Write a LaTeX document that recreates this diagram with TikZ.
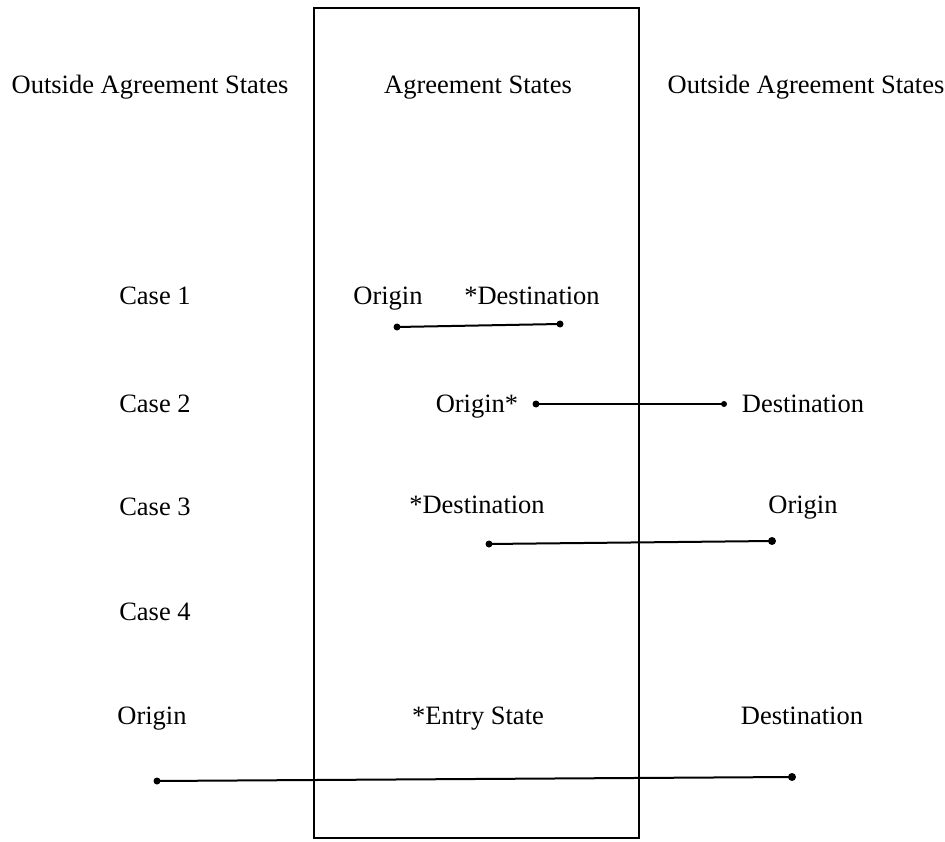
\documentclass[tikz,border=0pt]{standalone}
\usepackage{fontspec}
\setmainfont{Liberation Serif}
\tikzset{
  lbl/.style={anchor=base, inner sep=0pt, font=\fontsize{26.5}{30}\selectfont},
  pathline/.style={line width=2pt},
  enddot/.style={circle, fill, inner sep=0pt, minimum size=7pt}
}
\begin{document}
\begin{tikzpicture}[x=1pt, y=-1pt]
  \useasboundingbox (0,0) rectangle (945,842);
  % agreement states box
  \draw[line width=2.2pt] (314,8) rectangle (639,838);

  % headings
  \node[lbl] (outL) at (150,94) {Outside Agreement States};
  \node[lbl] (agr) at (478,94) {Agreement States};
  \node[lbl] (outR) at (806,94) {Outside Agreement States};

  % case labels
  \node[lbl] (case1) at (155,305) {Case 1};
  \node[lbl] (case2) at (155,412) {Case 2};
  \node[lbl] (case3) at (155,515) {Case 3};
  \node[lbl] (case4) at (155,620) {Case 4};

  % case 1
  \node[lbl] (orig1) at (388,305) {Origin};
  \node[lbl] (dest1) at (532,305) {*Destination};
  \coordinate (a1) at (397,327);
  \coordinate (b1) at (560,324);
  \draw[pathline] (a1) -- (b1);
  \node[enddot] at (a1) {};
  \node[enddot] at (b1) {};

  % case 2
  \node[lbl] (orig2) at (477,412) {Origin*};
  \node[lbl] (dest2) at (803,412) {Destination};
  \coordinate (a2) at (536,404);
  \coordinate (b2) at (724,404);
  \draw[pathline] (a2) -- (b2);
  \node[enddot] at (a2) {};
  \node[enddot, minimum size=6pt] at (b2) {};

  % case 3
  \node[lbl] (dest3) at (477,513) {*Destination};
  \node[lbl] (orig3) at (803,513) {Origin};
  \coordinate (a3) at (489,544);
  \coordinate (b3) at (772,541);
  \draw[pathline] (a3) -- (b3);
  \node[enddot] at (a3) {};
  \node[enddot, minimum size=8pt] at (b3) {};

  % case 4
  \node[lbl] (orig4) at (152,724) {Origin};
  \node[lbl] (entry4) at (478,724) {*Entry State};
  \node[lbl] (dest4) at (802,724) {Destination};
  \coordinate (a4) at (157,781);
  \coordinate (b4) at (792,777);
  \draw[pathline] (a4) -- (b4);
  \node[enddot] at (a4) {};
  \node[enddot, minimum size=8pt] at (b4) {};
\end{tikzpicture}
\end{document}
